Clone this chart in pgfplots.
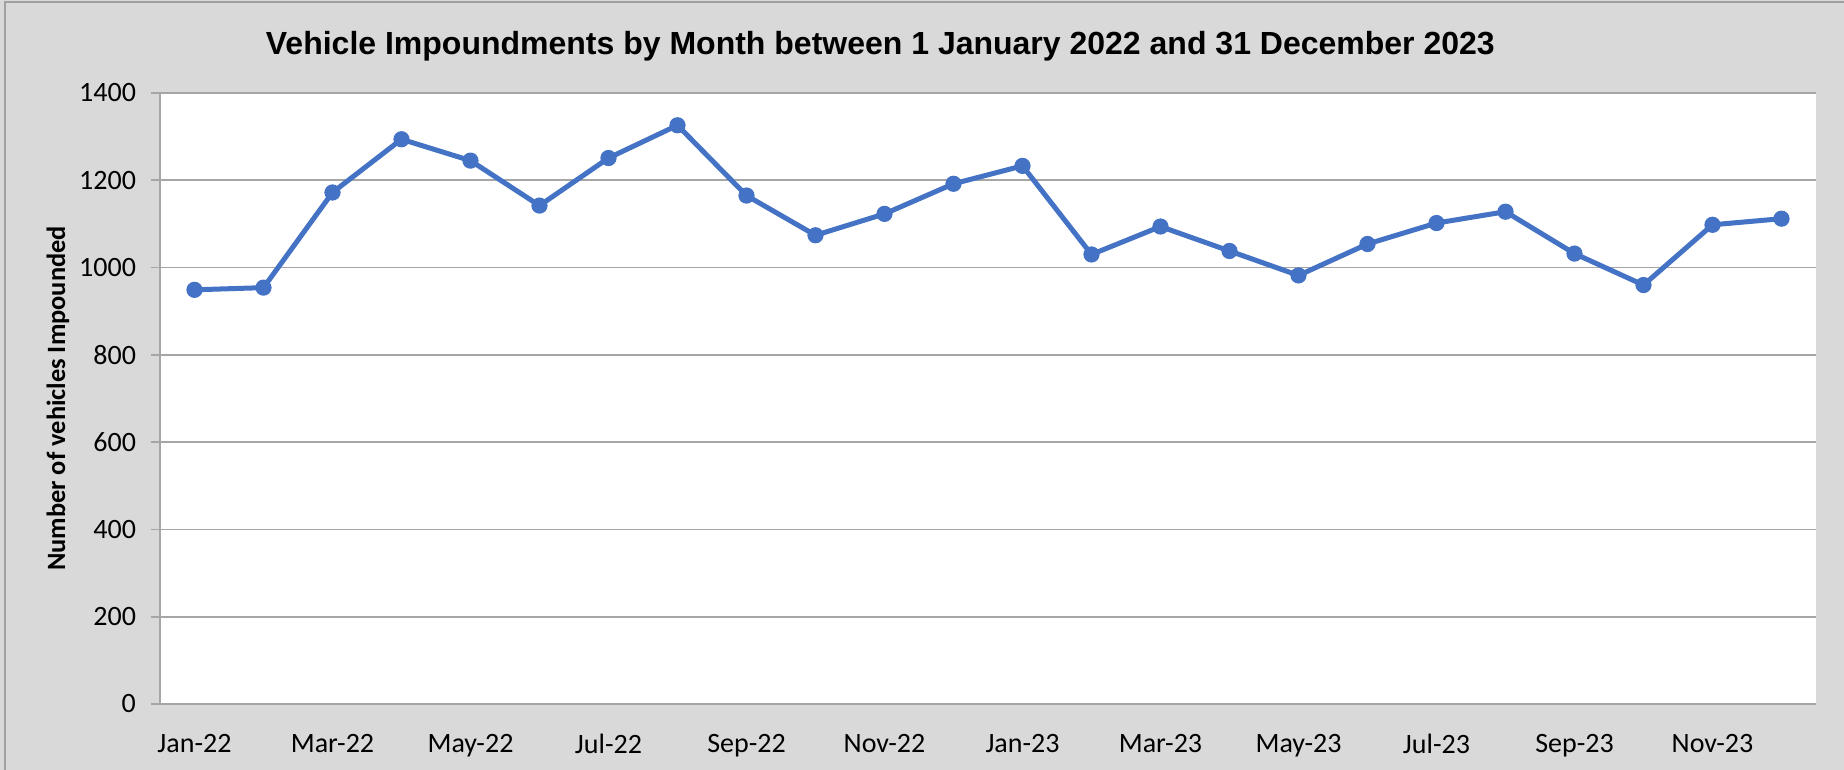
\documentclass[border=0pt]{standalone}
\usepackage{pgfplots}
\pgfplotsset{compat=1.18}
\usepackage{pgfplotstable}
\usepackage{fontspec}
\setmainfont{Carlito}
\newfontfamily\titlefont{Liberation Sans}
\definecolor{bgc}{HTML}{D9D9D9}
\definecolor{framec}{HTML}{A0A0A0}
\definecolor{gridc}{HTML}{A6A6A6}
\definecolor{linec}{HTML}{4472C4}
\pgfplotstableread{
idx value
0 949
1 954
2 1172
3 1294
4 1245
5 1142
6 1251
7 1326
8 1165
9 1074
10 1123
11 1192
12 1233
13 1030
14 1094
15 1038
16 982
17 1054
18 1102
19 1128
20 1032
21 960
22 1098
23 1112
}\datatable
\begin{document}
\begin{tikzpicture}
\useasboundingbox (0,0) rectangle (922pt,385pt);
\fill[bgc] (0,0) rectangle (922pt,385pt);
\draw[framec, line width=0.8pt] (2.5pt,0) -- (2.5pt,384pt) -- (922pt,384pt);
\begin{axis}[
  at={(80pt,33pt)}, anchor=south west,
  scale only axis, width=828pt, height=305.5pt,
  xmin=-0.5, xmax=23.5, ymin=0, ymax=1400,
  axis background/.style={fill=white},
  axis x line*=bottom, axis y line*=left,
  axis line style={gridc, line width=0.8pt, -},
  xtick={0,2,...,22},
  xticklabels={Jan-22,Mar-22,May-22,Jul-22,Sep-22,Nov-22,Jan-23,Mar-23,May-23,Jul-23,Sep-23,Nov-23},
  ytick={0,200,...,1400},
  ymajorgrids, major grid style={gridc, line width=0.8pt},
  x tick style={draw=none},
  y tick style={gridc, line width=0.8pt},
  tick align=outside, major tick length=4.5pt,
  /pgf/number format/assume math mode=true,
  /pgf/number format/set thousands separator={},
  tick label style={font=\fontsize{14}{16}\selectfont, text=black},
  xticklabel style={yshift=-7pt},
  yticklabel style={xshift=-4pt},
  title={\titlefont\bfseries\fontsize{16}{19}\selectfont Vehicle Impoundments by Month between 1 January 2022 and 31 December 2023},
  title style={at={(axis description cs:0.435,1.057)}, anchor=center},
  ylabel={\bfseries\fontsize{13.2}{15}\selectfont Number of vehicles Impounded},
  ylabel style={at={(axis description cs:-0.0616,0.5)}, anchor=center, rotate=0},
  clip=false,
]
\addplot[linec, line width=2.5pt, mark=*, mark size=3.8pt, mark options={fill=linec, draw=linec, line width=0.5pt}] table[x=idx, y=value] {\datatable};
\end{axis}
\end{tikzpicture}
\end{document}
